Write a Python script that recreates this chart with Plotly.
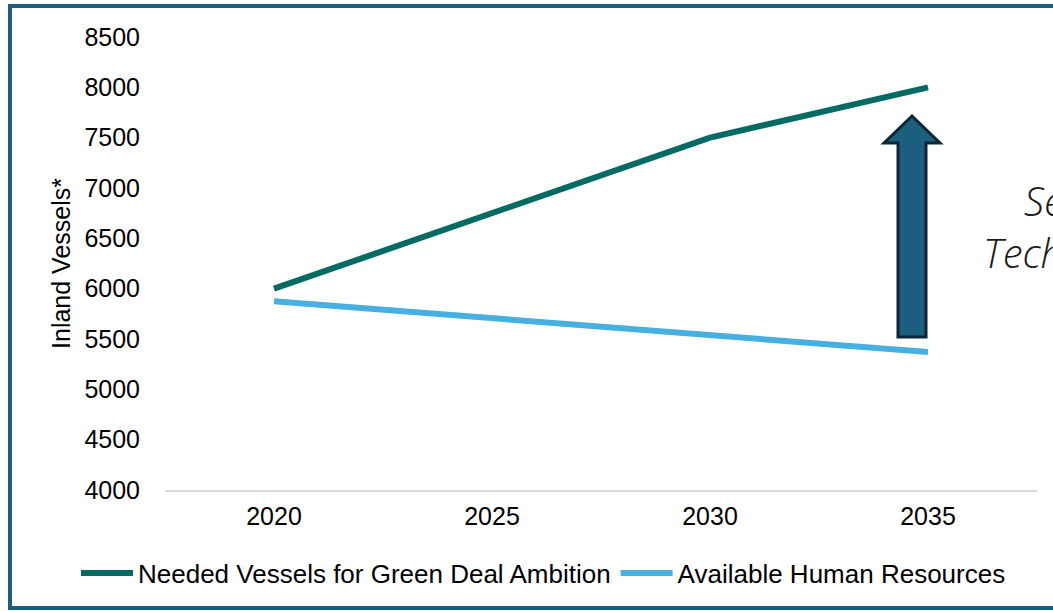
import plotly.graph_objects as go

years = ["2020", "2025", "2030", "2035"]
needed_vessels = [6000, 6750, 7500, 8000]
available_hr = [5875, 5705, 5540, 5370]
y_ticks = [4000, 4500, 5000, 5500, 6000, 6500, 7000, 7500, 8000, 8500]

W, H = 1053, 611
L, R, T, B = 165, 16, 37, 121
PW, PH = W - L - R, H - T - B

def px(x):
    return (x - L) / PW

def py(y):
    return (H - B - y) / PH

fig = go.Figure()
fig.add_trace(go.Scatter(x=years, y=needed_vessels, mode="lines",
                         name="Needed Vessels for Green Deal Ambition",
                         line=dict(color="#046A64", width=6)))
fig.add_trace(go.Scatter(x=years, y=available_hr, mode="lines",
                         name="Available Human Resources",
                         line=dict(color="#46B1E1", width=6)))

# frame
fig.add_shape(type="rect", xref="paper", yref="paper",
              x0=px(10), x1=px(1062), y0=py(6), y1=py(608),
              line=dict(color="#1B5E80", width=4), fillcolor="rgba(0,0,0,0)", layer="below")

# arrow
pts = [(898, 337), (926, 337), (926, 143), (940, 143), (912, 116), (884, 143), (898, 143)]
path = "M " + " L ".join(f"{px(a):.5f},{py(b):.5f}" for a, b in pts) + " Z"
fig.add_shape(type="path", xref="paper", yref="paper", path=path,
              fillcolor="#1B5E7E", line=dict(color="#0B2636", width=3))

fig.add_annotation(xref="paper", yref="paper", x=px(1022), y=py(200), text="Se",
                   showarrow=False, xanchor="left", yanchor="middle", height=44,
                   font=dict(family="Open Sans", size=40, style="italic", weight=300, color="#1a1a1a"))
fig.add_annotation(xref="paper", yref="paper", x=px(981), y=py(252), text="Tech",
                   showarrow=False, xanchor="left", yanchor="middle", height=44,
                   font=dict(family="Open Sans", size=40, style="italic", weight=300, color="#1a1a1a"))

fig.update_layout(
    width=W, height=H,
    margin=dict(l=L, r=R, t=T, b=B),
    paper_bgcolor="white", plot_bgcolor="white",
    font=dict(family="Liberation Sans", color="#000000", size=25),
    showlegend=True,
    legend=dict(orientation="h", xref="paper", yref="paper",
                x=px(76), y=py(573), xanchor="left", yanchor="middle",
                font=dict(size=26, color="#000000"), itemwidth=52,
                bgcolor="rgba(0,0,0,0)"),
    xaxis=dict(type="category", showgrid=False, showline=True, linecolor="#D9D9D9",
               linewidth=2, ticks="", ticklabelstandoff=3,
               tickfont=dict(size=25), range=[-0.5, 3.5], fixedrange=True),
    yaxis=dict(range=[4000, 8500], tickvals=y_ticks, showgrid=False, zeroline=False,
               showline=False, ticks="", ticklabelstandoff=24, fixedrange=True,
               tickfont=dict(size=25),
               title=dict(text="Inland Vessels*", font=dict(size=25), standoff=6)),
)

fig.write_html("out.html", config={"displayModeBar": False},
               post_script="document.body.style.margin='0';document.body.style.overflow='hidden';")
